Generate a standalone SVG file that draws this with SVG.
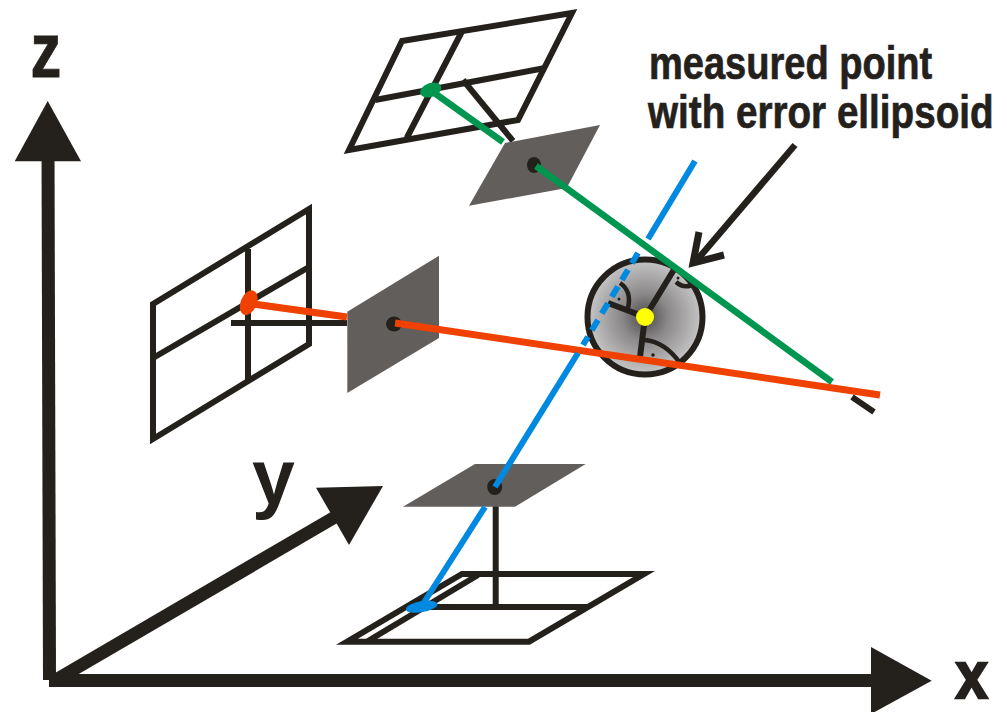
<svg xmlns="http://www.w3.org/2000/svg" width="1007" height="712" viewBox="0 0 1007 712">
<style>
.k{fill:none;stroke:#24211d;stroke-width:6;stroke-linejoin:miter}
.p{fill:#625e5c}
.d{fill:#24211d}
.g{fill:none;stroke:#00964f;stroke-width:6.5}
.r{fill:none;stroke:#ef4100;stroke-width:7}
.b{fill:none;stroke:#0089e0;stroke-width:6}
.t{font-family:"Liberation Sans",Arial,sans-serif;font-weight:700;fill:#24211d;stroke:#24211d;stroke-width:.7}
.u{font-family:"Liberation Sans",Arial,sans-serif;font-weight:700;fill:#24211d}
.a{fill:none;stroke:#24211d;stroke-width:13}
</style>
<defs>
<radialGradient id="sh" gradientUnits="userSpaceOnUse" cx="645" cy="317" r="58">
<stop offset="0" stop-color="#4a4847"/>
<stop offset="0.4" stop-color="#8a8888"/>
<stop offset="1" stop-color="#c8c7c7"/>
</radialGradient>
</defs>
<rect width="1007" height="712" fill="#fff"/>
<g id="axes">
<line class="a" x1="48" y1="150" x2="49.5" y2="680"/>
<polygon class="d" points="47.7,101 81,161.3 14.7,161.3"/>
<line class="a" x1="49" y1="680.5" x2="880" y2="680.5"/>
<polygon class="d" points="871,647 931.7,680.7 871,714"/>
<line class="a" x1="54" y1="681" x2="335" y2="517"/>
<polygon class="d" points="316,487.7 383,486 349,545"/>
</g>
<g id="labels">
<text class="u" transform="translate(30.5,76.5) scale(.8,1)" font-size="77" stroke="#24211d" stroke-width=".8">z</text>
<text class="u" x="252" y="504" font-size="77">y</text>
<text class="u" transform="translate(955.5,698) scale(.88,1)" font-size="66" stroke="#24211d" stroke-width="2.4">x</text>
<text class="t" transform="translate(649,79.3) scale(.827,1)" font-size="46">measured point</text>
<text class="t" transform="translate(648,128.3) scale(.84,1)" font-size="46">with error ellipsoid</text>
</g>
<g id="image-top">
<polygon class="k" points="402,41 572,13 518,120 349,150"/>
<line class="k" x1="461.7" y1="32" x2="406.7" y2="138"/>
<line class="k" x1="375" y1="100" x2="545" y2="68"/>
<line class="k" x1="463" y1="80" x2="513" y2="141"/>
</g>
<g id="image-left">
<polygon class="k" points="153,304 309,209 309,344 153,439"/>
<line class="k" x1="248" y1="249" x2="248" y2="380"/>
<line class="k" x1="153" y1="358" x2="309" y2="267"/>
<line class="k" x1="231" y1="323" x2="347" y2="323"/>
</g>
<g id="image-bottom">
<polygon class="k" points="462,574 644,574 529,641.7 347,641.7"/>
<line class="k" x1="478" y1="575" x2="368" y2="641"/>
<line class="k" x1="410" y1="607" x2="587" y2="607"/>
<line class="k" x1="495.7" y1="505" x2="495.7" y2="605"/>
</g>
<g id="plane-top"><polygon class="p" points="505,143 600,125 566.7,188 469,205.7"/><ellipse class="d" cx="534" cy="165" rx="7" ry="8"/></g>
<g id="plane-left"><polygon class="p" points="347.3,311.7 439,255.7 439,338 347.3,393"/><ellipse class="d" cx="394" cy="324" rx="8" ry="7.5"/></g>
<g id="plane-bottom"><polygon class="p" points="475,464 585.7,464 515,506.7 403,506.7"/><ellipse class="d" cx="494.7" cy="487" rx="7.5" ry="8"/></g>
<g id="ellipsoid">
<circle cx="645" cy="317" r="57.5" fill="url(#sh)" stroke="#24211d" stroke-width="6"/>
<path class="k" d="M645 317L675 268M645 317L608 303M645 317L640 357"/>
<path class="k" style="stroke-width:4.5" d="M676 282Q685 290 696 283M620 283Q632 291 628 308M645 340Q665 342 680 363"/>
<circle class="d" cx="678" cy="278" r="1.5"/><circle class="d" cx="619" cy="299" r="1.5"/><circle class="d" cx="653" cy="355" r="1.8"/>
<circle cx="645" cy="317" r="9" fill="#ffff00"/>
</g>
<g id="connectors">
<line class="g" x1="433" y1="92" x2="503" y2="142"/>
<line class="g" x1="536" y1="166" x2="832" y2="382"/>
<line class="r" x1="253" y1="304" x2="347" y2="317"/>
<line class="r" x1="395" y1="323" x2="880" y2="395"/>
<line class="k" x1="852" y1="397" x2="874" y2="412"/>
<line class="b" x1="695" y1="161" x2="648" y2="239"/>
<line class="b" x1="638" y1="253" x2="583" y2="345" stroke-dasharray="12 7.5"/>
<line class="b" x1="578" y1="353" x2="495" y2="487"/>
<line class="b" x1="485" y1="507" x2="423" y2="604"/>
<ellipse cx="430.7" cy="90" rx="11" ry="7" fill="#00964f" transform="rotate(-20 430.7 90)"/>
<ellipse cx="248.7" cy="302.7" rx="8" ry="13" fill="#ef4100" transform="rotate(22 248.7 302.7)"/>
<ellipse cx="421.7" cy="606.7" rx="16" ry="5.5" fill="#0089e0" transform="rotate(-10 421.7 606.7)"/>
<line x1="795" y1="145" x2="697" y2="260" stroke="#24211d" stroke-width="6.5"/>
<polyline points="699,232 693,263 724,255" fill="none" stroke="#24211d" stroke-width="7"/>
</g>
</svg>
